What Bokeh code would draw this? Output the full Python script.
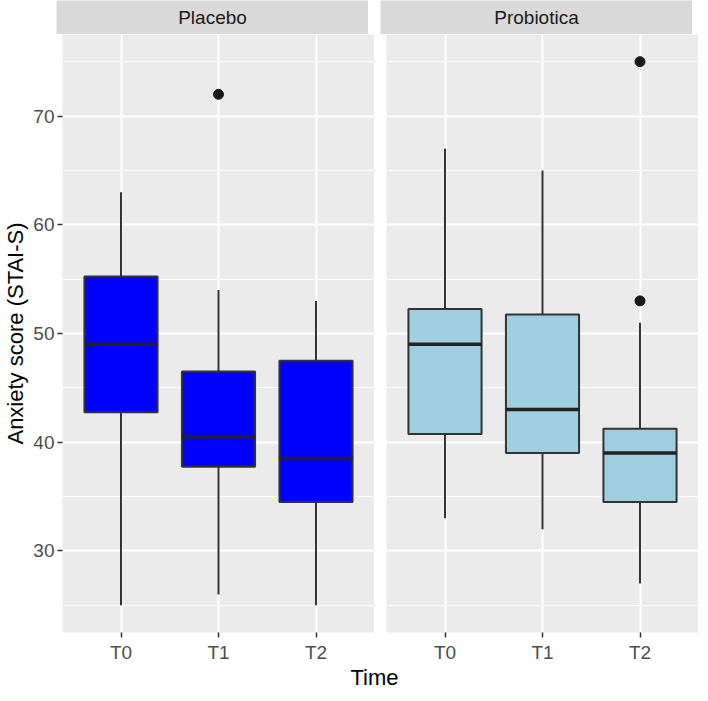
from bokeh.plotting import figure
from bokeh.layouts import column, row
from bokeh.models import FactorRange, Range1d, FixedTicker, ColumnDataSource
from bokeh.core.properties import value
from bokeh.embed import file_html
from bokeh.resources import INLINE

# ---------------- data ----------------
categories = ["T0", "T1", "T2"]
panels = ["Placebo", "Probiotica"]

placebo_lower = [25, 26, 25]
placebo_q1 = [42.75, 37.75, 34.5]
placebo_median = [49, 40.5, 38.5]
placebo_q3 = [55.25, 46.5, 47.5]
placebo_upper = [63, 54, 53]
placebo_out_x = ["T1"]
placebo_out_y = [72]

probiotica_lower = [33, 32, 27]
probiotica_q1 = [40.75, 39, 34.5]
probiotica_median = [49, 43, 39]
probiotica_q3 = [52.25, 51.75, 41.25]
probiotica_upper = [67, 65, 51]
probiotica_out_x = ["T2", "T2"]
probiotica_out_y = [75, 53]

y_ticks = [30, 40, 50, 60, 70]
y_minor = [25, 35, 45, 55, 65, 75]

# ---------------- style ----------------
FONT = value("Liberation Sans")
PANEL_BG = "#EBEBEB"
STRIP_BG = "#D9D9D9"
LINE = "#333333"
FW = 312
FH = 598
STRIP_H = 34
LEFT = 56
GAP = 12
BOTTOM = 30
BOX_W = 0.75

x_range = FactorRange(*categories, range_padding=0.1, range_padding_units="absolute")
y_range = Range1d(22.5, 77.5)


def make_panel(lower, q1, med, q3, upper, ox, oy, fill, left_border, show_y):
    p = figure(x_range=x_range, y_range=y_range, frame_width=FW, frame_height=FH,
               min_border_left=left_border, min_border_right=0, min_border_top=0,
               min_border_bottom=BOTTOM, toolbar_location=None, output_backend="svg",
               background_fill_color=PANEL_BG, border_fill_color="white")
    p.outline_line_color = None
    t = FixedTicker(ticks=y_ticks, minor_ticks=y_minor)
    p.yaxis.ticker = t
    p.ygrid.ticker = t
    p.ygrid.grid_line_color = "white"
    p.ygrid.grid_line_width = 2
    p.ygrid.minor_grid_line_color = "white"
    p.ygrid.minor_grid_line_width = 1
    p.xgrid.grid_line_color = "white"
    p.xgrid.grid_line_width = 2

    for ax in (p.xaxis, p.yaxis):
        ax.axis_line_color = None
        ax.major_tick_line_color = LINE
        ax.major_tick_line_width = 1.5
        ax.major_tick_out = 5
        ax.major_tick_in = 0
        ax.minor_tick_line_color = None
        ax.major_label_text_font = "Liberation Sans"
        ax.major_label_text_font_size = "19px"
        ax.major_label_text_color = "#4D4D4D"
    p.xaxis.major_label_standoff = 4
    p.yaxis.major_label_standoff = 3

    if show_y:
        p.yaxis.axis_label = "Anxiety score (STAI-S)"
        p.yaxis.axis_label_text_font = "Liberation Sans"
        p.yaxis.axis_label_text_font_size = "22px"
        p.yaxis.axis_label_text_font_style = "normal"
        p.yaxis.axis_label_text_color = "black"
        p.yaxis.axis_label_standoff = 2
    else:
        p.yaxis.visible = False

    src = ColumnDataSource(dict(x=categories, lower=lower, q1=q1, med=med, q3=q3, upper=upper,
                                mx0=[(c, -BOX_W / 2) for c in categories],
                                mx1=[(c, BOX_W / 2) for c in categories]))
    p.segment(x0="x", y0="q3", x1="x", y1="upper", source=src, line_color=LINE, line_width=2)
    p.segment(x0="x", y0="q1", x1="x", y1="lower", source=src, line_color=LINE, line_width=2)
    p.vbar(x="x", bottom="q1", top="q3", width=BOX_W, source=src, fill_color=fill,
           line_color=LINE, line_width=2)
    p.segment(x0="mx0", y0="med", x1="mx1", y1="med", source=src, line_color="#222222",
              line_width=3.5)
    p.scatter(x=ox, y=oy, size=10, fill_color="#1A1A1A", line_color="#1A1A1A")
    return p


def make_strip(label, left_border):
    s = figure(x_range=x_range, y_range=Range1d(0, 1), frame_width=FW, frame_height=STRIP_H,
               min_border_left=left_border, min_border_right=0, min_border_top=0,
               min_border_bottom=0, toolbar_location=None, output_backend="svg",
               background_fill_color=STRIP_BG, border_fill_color="white",
               x_axis_location=None, y_axis_location=None)
    s.outline_line_color = None
    s.grid.visible = False
    s.text(x=["T1"], y=[0.5], text=[label], text_align="center", text_baseline="middle",
           text_font=FONT, text_font_size="19px", text_color="#1A1A1A")
    return s


p1 = make_panel(placebo_lower, placebo_q1, placebo_median, placebo_q3, placebo_upper,
                placebo_out_x, placebo_out_y, "#0000FF", LEFT, True)
p2 = make_panel(probiotica_lower, probiotica_q1, probiotica_median, probiotica_q3,
                probiotica_upper, probiotica_out_x, probiotica_out_y, "#9FCEDF", GAP, False)
s1 = make_strip(panels[0], LEFT)
s2 = make_strip(panels[1], GAP)

TOTAL_W = LEFT + FW + GAP + FW
pt = figure(x_range=Range1d(0, TOTAL_W), y_range=Range1d(0, 1), frame_width=TOTAL_W,
            frame_height=23, min_border_left=0, min_border_right=0, min_border_top=0,
            min_border_bottom=0, toolbar_location=None, output_backend="svg",
            x_axis_location=None, y_axis_location=None, background_fill_color="white")
pt.outline_line_color = None
pt.grid.visible = False
pt.text(x=[LEFT + FW + GAP / 2], y=[0.5], text=["Time"], text_align="center",
        text_baseline="middle", text_font=FONT, text_font_size="22px", text_color="black")

layout = column(row(s1, s2), row(p1, p2), pt)

open("out.html", "w").write(file_html(layout, INLINE))
